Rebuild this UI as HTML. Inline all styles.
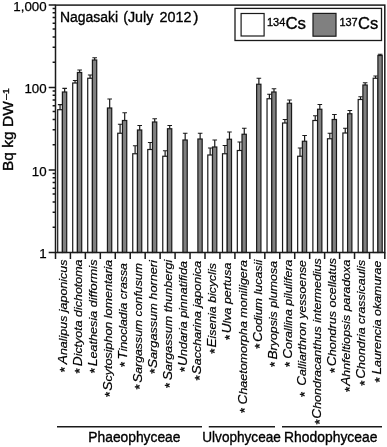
<!DOCTYPE html>
<html><head><meta charset="utf-8"><title>Nagasaki (July 2012)</title>
<style>html,body{margin:0;padding:0;background:#fff}svg{display:block}text{font-family:"Liberation Sans",sans-serif;fill:#000;stroke:#000;stroke-width:.35px}.xl{font-style:italic;stroke-width:.2px}.yl{stroke-width:.25px}</style></head><body>
<svg width="387" height="447" viewBox="0 0 387 447">
<rect width="387" height="447" fill="#fff"/>
<g stroke="#1a1a1a" stroke-width="1.20">
<path d="M60.05 109.70V104.60M57.85 104.60H62.25" fill="none"/>
<rect x="57.70" y="109.70" width="4.70" height="142.80" fill="#fff"/>
<path d="M64.65 92.00V88.30M62.35 88.30H66.95" fill="none"/>
<rect x="62.40" y="92.00" width="4.30" height="160.50" fill="#808080"/>
<path d="M75.06 83.00V80.50M72.86 80.50H77.26" fill="none"/>
<rect x="72.71" y="83.00" width="4.70" height="169.50" fill="#fff"/>
<path d="M79.66 72.50V70.00M77.36 70.00H81.96" fill="none"/>
<rect x="77.41" y="72.50" width="4.30" height="180.00" fill="#808080"/>
<path d="M90.07 78.25V75.00M87.87 75.00H92.27" fill="none"/>
<rect x="87.72" y="78.25" width="4.70" height="174.25" fill="#fff"/>
<path d="M94.67 60.00V57.75M92.37 57.75H96.97" fill="none"/>
<rect x="92.42" y="60.00" width="4.30" height="192.50" fill="#808080"/>
<path d="M109.68 108.00V99.00M107.38 99.00H111.98" fill="none"/>
<rect x="107.43" y="108.00" width="4.30" height="144.50" fill="#808080"/>
<path d="M120.09 133.25V124.25M117.89 124.25H122.29" fill="none"/>
<rect x="117.74" y="133.25" width="4.70" height="119.25" fill="#fff"/>
<path d="M124.69 120.50V112.75M122.39 112.75H126.99" fill="none"/>
<rect x="122.44" y="120.50" width="4.30" height="132.00" fill="#808080"/>
<path d="M135.10 153.75V145.75M132.90 145.75H137.30" fill="none"/>
<rect x="132.75" y="153.75" width="4.70" height="98.75" fill="#fff"/>
<path d="M139.70 130.00V125.50M137.40 125.50H142.00" fill="none"/>
<rect x="137.45" y="130.00" width="4.30" height="122.50" fill="#808080"/>
<path d="M150.11 149.50V142.50M147.91 142.50H152.31" fill="none"/>
<rect x="147.76" y="149.50" width="4.70" height="103.00" fill="#fff"/>
<path d="M154.71 122.00V118.75M152.41 118.75H157.01" fill="none"/>
<rect x="152.46" y="122.00" width="4.30" height="130.50" fill="#808080"/>
<path d="M165.12 156.25V150.75M162.92 150.75H167.32" fill="none"/>
<rect x="162.77" y="156.25" width="4.70" height="96.25" fill="#fff"/>
<path d="M169.72 128.75V125.50M167.42 125.50H172.02" fill="none"/>
<rect x="167.47" y="128.75" width="4.30" height="123.75" fill="#808080"/>
<path d="M185.18 140.00V133.25M182.88 133.25H187.48" fill="none"/>
<rect x="182.93" y="140.00" width="4.30" height="112.50" fill="#808080"/>
<path d="M200.14 139.00V133.25M197.84 133.25H202.44" fill="none"/>
<rect x="197.89" y="139.00" width="4.30" height="113.50" fill="#808080"/>
<path d="M210.15 155.00V148.00M207.95 148.00H212.35" fill="none"/>
<rect x="207.80" y="155.00" width="4.70" height="97.50" fill="#fff"/>
<path d="M214.75 147.00V140.00M212.45 140.00H217.05" fill="none"/>
<rect x="212.50" y="147.00" width="4.30" height="105.50" fill="#808080"/>
<path d="M224.86 153.75V145.50M222.66 145.50H227.06" fill="none"/>
<rect x="222.51" y="153.75" width="4.70" height="98.75" fill="#fff"/>
<path d="M229.46 139.25V132.00M227.16 132.00H231.76" fill="none"/>
<rect x="227.21" y="139.25" width="4.30" height="113.25" fill="#808080"/>
<path d="M239.67 150.50V142.00M237.47 142.00H241.87" fill="none"/>
<rect x="237.32" y="150.50" width="4.70" height="102.00" fill="#fff"/>
<path d="M244.27 134.25V128.25M241.97 128.25H246.57" fill="none"/>
<rect x="242.02" y="134.25" width="4.30" height="118.25" fill="#808080"/>
<path d="M258.88 84.25V78.25M256.58 78.25H261.18" fill="none"/>
<rect x="256.63" y="84.25" width="4.30" height="168.25" fill="#808080"/>
<path d="M269.39 98.75V94.25M267.19 94.25H271.59" fill="none"/>
<rect x="267.04" y="98.75" width="4.70" height="153.75" fill="#fff"/>
<path d="M273.99 92.00V88.75M271.69 88.75H276.29" fill="none"/>
<rect x="271.74" y="92.00" width="4.30" height="160.50" fill="#808080"/>
<path d="M284.90 123.00V119.50M282.70 119.50H287.10" fill="none"/>
<rect x="282.55" y="123.00" width="4.70" height="129.50" fill="#fff"/>
<path d="M289.50 103.25V100.00M287.20 100.00H291.80" fill="none"/>
<rect x="287.25" y="103.25" width="4.30" height="149.25" fill="#808080"/>
<path d="M300.01 156.25V148.00M297.81 148.00H302.21" fill="none"/>
<rect x="297.66" y="156.25" width="4.70" height="96.25" fill="#fff"/>
<path d="M304.61 141.25V135.50M302.31 135.50H306.91" fill="none"/>
<rect x="302.36" y="141.25" width="4.30" height="111.25" fill="#808080"/>
<path d="M315.22 120.50V115.75M313.02 115.75H317.42" fill="none"/>
<rect x="312.87" y="120.50" width="4.70" height="132.00" fill="#fff"/>
<path d="M319.82 109.25V104.50M317.52 104.50H322.12" fill="none"/>
<rect x="317.57" y="109.25" width="4.30" height="143.25" fill="#808080"/>
<path d="M329.83 138.75V133.25M327.63 133.25H332.03" fill="none"/>
<rect x="327.48" y="138.75" width="4.70" height="113.75" fill="#fff"/>
<path d="M334.43 119.50V114.50M332.13 114.50H336.73" fill="none"/>
<rect x="332.18" y="119.50" width="4.30" height="133.00" fill="#808080"/>
<path d="M345.24 133.00V128.25M343.04 128.25H347.44" fill="none"/>
<rect x="342.89" y="133.00" width="4.70" height="119.50" fill="#fff"/>
<path d="M349.84 113.75V110.50M347.54 110.50H352.14" fill="none"/>
<rect x="347.59" y="113.75" width="4.30" height="138.75" fill="#808080"/>
<path d="M360.55 99.50V96.75M358.35 96.75H362.75" fill="none"/>
<rect x="358.20" y="99.50" width="4.70" height="153.00" fill="#fff"/>
<path d="M365.15 85.00V82.75M362.85 82.75H367.45" fill="none"/>
<rect x="362.90" y="85.00" width="4.30" height="167.50" fill="#808080"/>
<path d="M375.56 78.25V76.00M373.36 76.00H377.76" fill="none"/>
<rect x="373.21" y="78.25" width="4.70" height="174.25" fill="#fff"/>
<path d="M380.16 55.50V54.25M377.86 54.25H382.46" fill="none"/>
<rect x="377.91" y="55.50" width="4.30" height="197.00" fill="#808080"/>
</g>
<g stroke="#1a1a1a" stroke-width="1.5" fill="none">
<rect x="55.50" y="5.10" width="329.30" height="247.40"/>
<path d="M48.7 252.50H55.50M52.6 227.28H55.50M52.6 212.20H55.50M52.6 201.90H55.50M52.6 194.01H55.50M52.6 188.18H55.50M52.6 182.46H55.50M52.6 177.78H55.50M52.6 173.46H55.50M48.7 170.03H55.50M52.6 144.81H55.50M52.6 129.74H55.50M52.6 119.43H55.50M52.6 111.54H55.50M52.6 105.71H55.50M52.6 99.99H55.50M52.6 95.31H55.50M52.6 90.99H55.50M48.7 87.57H55.50M52.6 62.34H55.50M52.6 47.27H55.50M52.6 36.97H55.50M52.6 29.07H55.50M52.6 23.25H55.50M52.6 17.52H55.50M52.6 12.84H55.50M52.6 8.52H55.50M48.7 5.10H55.50M55.50 252.50V259M70.41 252.50V259M85.37 252.50V259M100.32 252.50V259M115.28 252.50V259M130.23 252.50V259M145.18 252.50V259M160.14 252.50V259M175.09 252.50V259M190.05 252.50V259M205.00 252.50V259M219.95 252.50V259M234.91 252.50V259M249.86 252.50V259M264.82 252.50V259M279.77 252.50V259M294.72 252.50V259M309.68 252.50V259M324.63 252.50V259M339.59 252.50V259M354.54 252.50V259M369.49 252.50V259M384.80 252.50V259"/>
</g>
<text x="46.6" y="258.40" font-size="13.3" class="yl" text-anchor="end">1</text>
<text x="46.6" y="175.93" font-size="13.3" class="yl" text-anchor="end">10</text>
<text x="46.6" y="93.47" font-size="13.3" class="yl" text-anchor="end">100</text>
<text x="46.6" y="11.00" font-size="13.3" class="yl" text-anchor="end">1,000</text>
<g transform="translate(12.9,171) rotate(-90)"><text x="0.00" y="0.00" font-size="15.40" textLength="70.00" lengthAdjust="spacingAndGlyphs">Bq kg DW</text><text x="71.20" y="-3.60" font-size="9.20" textLength="11.60" lengthAdjust="spacingAndGlyphs">–1</text></g>
<text x="59.90" y="22.00" font-size="15.50" textLength="58.10" lengthAdjust="spacingAndGlyphs">Nagasaki</text>
<text x="123.20" y="22.00" font-size="15.50" textLength="30.20" lengthAdjust="spacingAndGlyphs">(July</text>
<text x="159.50" y="22.00" font-size="15.50" textLength="32.00" lengthAdjust="spacingAndGlyphs">2012</text>
<text x="193.2" y="22" font-size="15.5">)</text>
<rect x="235" y="8.4" width="146.5" height="32.1" fill="#fff" stroke="#1a1a1a" stroke-width="1.3"/>
<rect x="241.1" y="13.5" width="23" height="22.5" fill="#fff" stroke="#1a1a1a" stroke-width="1.2"/>
<rect x="313" y="13.4" width="23" height="22.8" fill="#808080" stroke="#1a1a1a" stroke-width="1.2"/>
<text x="266.90" y="26.30" font-size="11.20" textLength="18.40" lengthAdjust="spacingAndGlyphs">134</text>
<text x="285.40" y="29.30" font-size="16.90" textLength="20.60" lengthAdjust="spacingAndGlyphs">Cs</text>
<text x="339.40" y="26.30" font-size="11.20" textLength="18.30" lengthAdjust="spacingAndGlyphs">137</text>
<text x="358.10" y="29.30" font-size="16.90" textLength="20.20" lengthAdjust="spacingAndGlyphs">Cs</text>
<text transform="translate(66.98,259.50) rotate(-90)" font-size="11.80" class="xl" text-anchor="end" textLength="104.80" lengthAdjust="spacingAndGlyphs"><tspan font-size="13">A</tspan>nalipus japonicus</text>
<text transform="translate(69.39,372.35) rotate(-90)" font-size="13.50">*</text>
<text transform="translate(81.95,259.50) rotate(-90)" font-size="11.80" class="xl" text-anchor="end" textLength="106.80" lengthAdjust="spacingAndGlyphs"><tspan font-size="13">D</tspan>ictyota dichotoma</text>
<text transform="translate(84.35,373.50) rotate(-90)" font-size="13.50">*</text>
<text transform="translate(96.92,259.50) rotate(-90)" font-size="11.80" class="xl" text-anchor="end" textLength="106.80" lengthAdjust="spacingAndGlyphs"><tspan font-size="13">L</tspan>eathesia difformis</text>
<text transform="translate(99.32,373.35) rotate(-90)" font-size="13.50">*</text>
<text transform="translate(111.89,259.70) rotate(-90)" font-size="11.80" class="xl" text-anchor="end" textLength="131.10" lengthAdjust="spacingAndGlyphs"><tspan font-size="13">S</tspan>cytosiphon lomentaria</text>
<text transform="translate(114.29,397.10) rotate(-90)" font-size="13.50">*</text>
<text transform="translate(126.86,263.10) rotate(-90)" font-size="11.80" class="xl" text-anchor="end" textLength="96.45" lengthAdjust="spacingAndGlyphs"><tspan font-size="13">T</tspan>inocladia crassa</text>
<text transform="translate(129.26,367.10) rotate(-90)" font-size="13.50">*</text>
<text transform="translate(141.82,263.10) rotate(-90)" font-size="11.80" class="xl" text-anchor="end" textLength="119.70" lengthAdjust="spacingAndGlyphs"><tspan font-size="13">S</tspan>argassum confusum</text>
<text transform="translate(144.23,389.60) rotate(-90)" font-size="13.50">*</text>
<text transform="translate(156.79,260.10) rotate(-90)" font-size="11.80" class="xl" text-anchor="end" textLength="108.20" lengthAdjust="spacingAndGlyphs"><tspan font-size="13">S</tspan>argassum horneri</text>
<text transform="translate(159.20,373.85) rotate(-90)" font-size="13.50">*</text>
<text transform="translate(171.76,259.70) rotate(-90)" font-size="11.80" class="xl" text-anchor="end" textLength="120.60" lengthAdjust="spacingAndGlyphs"><tspan font-size="13">S</tspan>argassum thunbergi</text>
<text transform="translate(174.16,388.10) rotate(-90)" font-size="13.50">*</text>
<text transform="translate(186.73,261.00) rotate(-90)" font-size="11.80" class="xl" text-anchor="end" textLength="104.90" lengthAdjust="spacingAndGlyphs"><tspan font-size="13">U</tspan>ndaria pinnatifida</text>
<text transform="translate(189.13,372.10) rotate(-90)" font-size="13.50">*</text>
<text transform="translate(201.20,260.70) rotate(-90)" font-size="11.80" class="xl" text-anchor="end" textLength="113.85" lengthAdjust="spacingAndGlyphs"><tspan font-size="13">S</tspan>accharina japonica</text>
<text transform="translate(204.10,380.60) rotate(-90)" font-size="13.50">*</text>
<text transform="translate(216.27,263.10) rotate(-90)" font-size="11.80" class="xl" text-anchor="end" textLength="84.50" lengthAdjust="spacingAndGlyphs"><tspan font-size="13">E</tspan>isenia bicyclis</text>
<text transform="translate(219.07,353.85) rotate(-90)" font-size="13.50">*</text>
<text transform="translate(231.23,262.70) rotate(-90)" font-size="11.80" class="xl" text-anchor="end" textLength="70.60" lengthAdjust="spacingAndGlyphs"><tspan font-size="13">U</tspan>lva pertusa</text>
<text transform="translate(234.04,340.10) rotate(-90)" font-size="13.50">*</text>
<text transform="translate(246.60,260.10) rotate(-90)" font-size="11.80" class="xl" text-anchor="end" textLength="144.45" lengthAdjust="spacingAndGlyphs"><tspan font-size="13">C</tspan>haetomorpha moniligera</text>
<text transform="translate(249.00,413.10) rotate(-90)" font-size="13.50">*</text>
<text transform="translate(261.57,259.70) rotate(-90)" font-size="11.80" class="xl" text-anchor="end" textLength="82.35" lengthAdjust="spacingAndGlyphs"><tspan font-size="13">C</tspan>odium lucasii</text>
<text transform="translate(263.97,348.85) rotate(-90)" font-size="13.50">*</text>
<text transform="translate(276.54,261.00) rotate(-90)" font-size="11.80" class="xl" text-anchor="end" textLength="98.55" lengthAdjust="spacingAndGlyphs"><tspan font-size="13">B</tspan>ryopsis plumosa</text>
<text transform="translate(278.94,367.10) rotate(-90)" font-size="13.50">*</text>
<text transform="translate(291.51,259.70) rotate(-90)" font-size="11.80" class="xl" text-anchor="end" textLength="99.10" lengthAdjust="spacingAndGlyphs"><tspan font-size="13">C</tspan>orallina pilulifera</text>
<text transform="translate(293.91,367.10) rotate(-90)" font-size="13.50">*</text>
<text transform="translate(306.48,260.10) rotate(-90)" font-size="11.80" class="xl" text-anchor="end" textLength="125.70" lengthAdjust="spacingAndGlyphs"><tspan font-size="13">C</tspan>alliarthron yessoense</text>
<text transform="translate(308.88,397.10) rotate(-90)" font-size="13.50">*</text>
<text transform="translate(321.44,258.20) rotate(-90)" font-size="11.80" class="xl" text-anchor="end" textLength="160.60" lengthAdjust="spacingAndGlyphs"><tspan font-size="13">C</tspan>hondracanthus intermedius</text>
<text transform="translate(323.85,424.60) rotate(-90)" font-size="13.50">*</text>
<text transform="translate(336.41,258.00) rotate(-90)" font-size="11.80" class="xl" text-anchor="end" textLength="108.30" lengthAdjust="spacingAndGlyphs"><tspan font-size="13">C</tspan>hondrus ocellatus</text>
<text transform="translate(338.81,373.10) rotate(-90)" font-size="13.50">*</text>
<text transform="translate(350.38,259.70) rotate(-90)" font-size="11.80" class="xl" text-anchor="end" textLength="126.10" lengthAdjust="spacingAndGlyphs"><tspan font-size="13">A</tspan>hnfeltiopsis paradoxa</text>
<text transform="translate(353.78,392.10) rotate(-90)" font-size="13.50">*</text>
<text transform="translate(365.45,259.70) rotate(-90)" font-size="11.80" class="xl" text-anchor="end" textLength="119.10" lengthAdjust="spacingAndGlyphs"><tspan font-size="13">C</tspan>hondria crassicaulis</text>
<text transform="translate(368.75,385.85) rotate(-90)" font-size="13.50">*</text>
<text transform="translate(381.32,260.70) rotate(-90)" font-size="11.80" class="xl" text-anchor="end" textLength="113.85" lengthAdjust="spacingAndGlyphs"><tspan font-size="13">L</tspan>aurencia okamurae</text>
<text transform="translate(383.72,382.60) rotate(-90)" font-size="13.50">*</text>
<path d="M57 426.7H202M208.8 426.7H275M282 426.7H382" stroke="#1a1a1a" stroke-width="1.4" fill="none"/>
<text x="88.30" y="442.00" font-size="14.20" textLength="92.20" lengthAdjust="spacingAndGlyphs">Phaeophyceae</text>
<text x="202.30" y="442.00" font-size="14.20" textLength="78.50" lengthAdjust="spacingAndGlyphs">Ulvophyceae</text>
<text x="284.10" y="442.00" font-size="14.20" textLength="93.30" lengthAdjust="spacingAndGlyphs">Rhodophyceae</text>
</svg></body></html>
